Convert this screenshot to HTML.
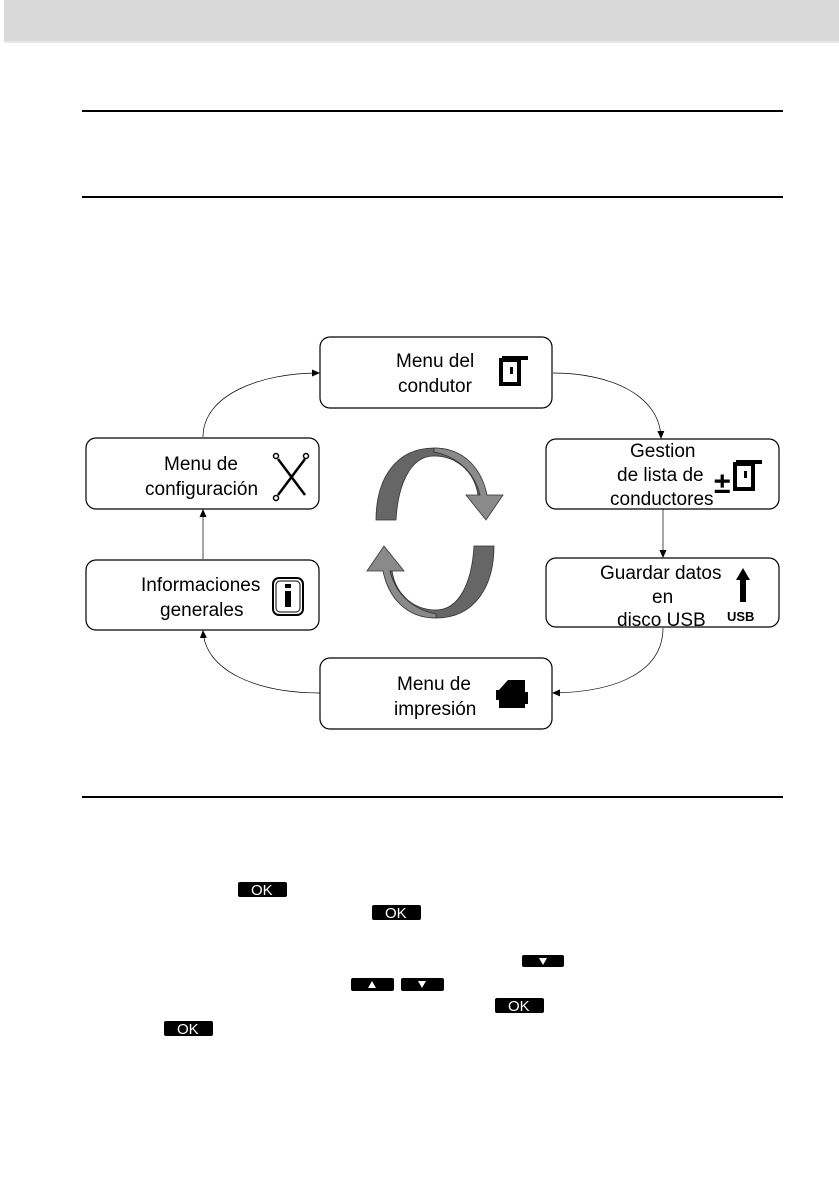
<!DOCTYPE html>
<html><head><meta charset="utf-8"><style>
body{margin:0;width:839px;height:1191px;background:#fff;position:relative;overflow:hidden;font-family:"Liberation Sans",sans-serif}
svg{position:absolute;left:0;top:0}
text{font-family:"Liberation Sans",sans-serif;fill:#000}
.l{font-size:19px}
</style></head><body>
<svg width="839" height="1191" viewBox="0 0 839 1191">
<defs><marker id="a" markerWidth="8" markerHeight="8" refX="7" refY="4" orient="auto" markerUnits="userSpaceOnUse"><path d="M0,0.5 L8,4 L0,7.5z" fill="#000"/></marker></defs>
<rect x="4" y="0" width="835" height="42" fill="#d9d9d9"/>
<rect x="4" y="41" width="835" height="2" fill="#e8e8e8"/>
<rect x="82" y="110" width="701" height="2" fill="#000"/>
<rect x="82" y="196" width="701" height="2" fill="#000"/>
<rect x="82" y="796" width="701" height="2" fill="#000"/>

<g fill="#fff" stroke="#000" stroke-width="1.2">
<rect x="320" y="337" width="232" height="71" rx="10"/>
<rect x="86" y="438" width="233" height="71" rx="10"/>
<rect x="546" y="439" width="233" height="70" rx="10"/>
<rect x="86" y="560" width="233" height="70" rx="10"/>
<rect x="546" y="558" width="233" height="69" rx="10"/>
<rect x="320" y="658" width="232" height="71" rx="10"/>
</g>
<g fill="none" stroke="#000" stroke-width="0.7" marker-end="url(#a)">
<path d="M203,437 C203,395 260,373 319,373"/>
<path d="M553,373 C610,373 660,395 661,438"/>
<path d="M663,509 L663,557"/>
<path d="M663,628 C663,670 620,692 553,693"/>
<path d="M320,693 C255,693 205,670 203,631"/>
<path d="M203,559 L203,510"/>
</g>

<g class="l">
<text x="396" y="367">Menu del</text>
<text x="398" y="392">condutor</text>
<text x="164" y="470">Menu de</text>
<text x="145" y="495">configuración</text>
<text x="630" y="457">Gestion</text>
<text x="617" y="481">de lista de</text>
<text x="610" y="505">conductores</text>
<text x="600" y="579">Guardar datos</text>
<text x="652" y="603">en</text>
<text x="617" y="626">disco USB</text>
<text x="141" y="591">Informaciones</text>
<text x="160" y="616">generales</text>
<text x="397" y="690">Menu de</text>
<text x="394" y="715">impresión</text>
</g>

<!-- icons -->
<g>
<path d="M502,356 h26 v4 h-26z" fill="#000"/>
<rect x="501" y="360" width="18" height="24" fill="none" stroke="#000" stroke-width="4"/>
<rect x="510" y="367" width="3" height="7" fill="#000"/>
</g>
<g stroke="#000" stroke-width="2.5" fill="none">
<path d="M278,459 L305,495 M305,459 L278,495"/>
<circle cx="276" cy="456" r="2.5" stroke-width="1.5"/><circle cx="306" cy="456" r="2.5" stroke-width="1.5"/><circle cx="276" cy="498" r="2.5" stroke-width="1.5"/>
</g>
<text x="714" y="493" style="font-size:30px;font-weight:bold">±</text>
<g>
<path d="M736,460 h26 v4 h-26z" fill="#000"/>
<rect x="735" y="464" width="18" height="25" fill="none" stroke="#000" stroke-width="4"/>
<rect x="744" y="471" width="3" height="7" fill="#000"/>
</g>
<path d="M743,568 L750,580 L746,580 L746,602 L740,602 L740,580 L736,580z" fill="#000"/>
<text x="727" y="621" style="font-size:13px;font-weight:bold">USB</text>
<rect x="273" y="578" width="30" height="37" rx="6" fill="none" stroke="#000" stroke-width="2"/>
<rect x="276" y="581" width="24" height="31" rx="4" fill="none" stroke="#000" stroke-width="1"/>
<rect x="285" y="584" width="6" height="4" fill="#000"/>
<rect x="285" y="591" width="6" height="16" fill="#000"/>
<path d="M508,680 h17 v12 h3 v12 h-3 v4 h-26 v-8 h-3 v-10 h3z" fill="#000"/>

<!-- cycle arrows -->
<g id="up">
<path d="M376,520 C376,480 395,448 434,448 C465,448 482,470 485,495 L478,495 C474,470 455,456 434,456 C410,456 398,485 396,520 Z" fill="#666" stroke="#333" stroke-width="0.8"/>
<path d="M434,448 C465,448 482,470 487,495 L503,495 L486,520 L466,495 L480,495 C474,470 455,456 434,452 Z" fill="#8a8a8a" stroke="#333" stroke-width="0.8"/>
</g>
<use href="#up" transform="rotate(180 435 533)"/>

<!-- keys -->
<g fill="#000">
<rect x="238" y="882" width="49" height="15" rx="2"/>
<rect x="372" y="905" width="49" height="15" rx="2"/>
<rect x="522" y="955" width="42" height="12" rx="2"/>
<rect x="351" y="978" width="43" height="13" rx="2"/>
<rect x="401" y="978" width="43" height="13" rx="2"/>
<rect x="495" y="998" width="49" height="15" rx="2"/>
<rect x="164" y="1021" width="49" height="15" rx="2"/>
</g>
<g style="font-size:15px">
<text x="251" y="895" style="fill:#fff">OK</text>
<text x="385" y="918" style="fill:#fff">OK</text>
<text x="508" y="1011" style="fill:#fff">OK</text>
<text x="177" y="1034" style="fill:#fff">OK</text>
</g>
<path d="M539,958 h8 l-4,7z M368,988 h8 l-4,-7z M418,981 h8 l-4,7z" fill="#fff"/>
</svg>
</body></html>
